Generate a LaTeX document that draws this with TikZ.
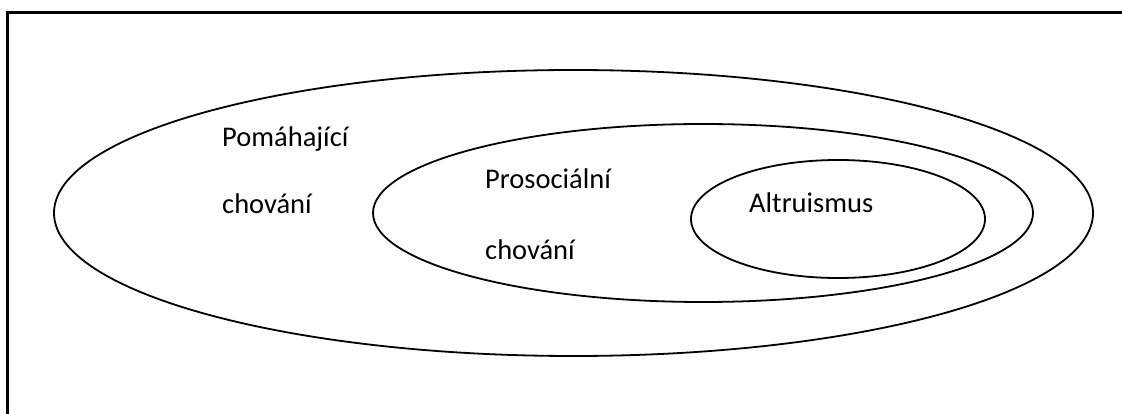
\documentclass[tikz,border=0pt]{standalone}
\usepackage{fontspec}
\setmainfont{Carlito}
\usetikzlibrary{shapes.geometric}
\tikzset{
  setring/.style={draw=black, line width=1.8pt, ellipse, inner sep=0pt},
  setlabel/.style={anchor=base west, inner sep=0pt, font=\fontsize{28.5}{34}\selectfont}
}
\begin{document}
\begin{tikzpicture}[x=1pt, y=-1pt]
  \useasboundingbox (0,0) rectangle (1122,414);
  \begin{scope}
    \clip (0,0) rectangle (1122,414);
    % outer frame, running off the page at right and bottom
    \draw[line width=3pt] (7.5,414) -- (7.5,12.5) -- (1122,12.5);
  \end{scope}
  % nested sets
  \node[setring, minimum width=1039pt, minimum height=286pt] (outer) at (573.5,213) {};
  \node[setring, minimum width=660pt, minimum height=178pt] (middle) at (703,213) {};
  \node[setring, minimum width=294pt, minimum height=118pt] (inner) at (838,219) {};
  % labels
  \node[setlabel] (pom1) at (222,147) {Pomáhající};
  \node[setlabel] (pom2) at (222,214) {chování};
  \node[setlabel] (pro1) at (485,189) {Prosociální};
  \node[setlabel] (pro2) at (485,260) {chování};
  \node[setlabel] (alt) at (749,213) {Altruismus};
\end{tikzpicture}
\end{document}
